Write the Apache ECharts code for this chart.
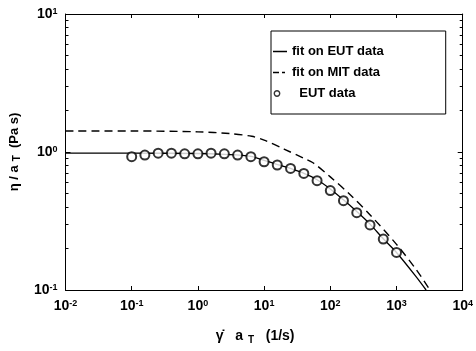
<!DOCTYPE html>
<html><head><meta charset="utf-8">
<script src="https://cdn.jsdelivr.net/npm/echarts@6/dist/echarts.min.js"></script>
<style>html,body{margin:0;padding:0;background:#fff}#c{width:476px;height:351px}</style>
</head><body><div id="c"></div>
<script>
// EUT measured data (shear rate, eta/aT)
const eutX = [0.1, 0.158, 0.251, 0.398, 0.631, 1, 1.58, 2.51, 3.98, 6.31, 10, 15.8, 25.1, 39.8, 63.1, 100, 158, 251, 398, 631, 1000];
const eutY = [0.925, 0.95, 0.98, 0.98, 0.97, 0.97, 0.98, 0.97, 0.95, 0.925, 0.85, 0.805, 0.76, 0.70, 0.62, 0.525, 0.444, 0.363, 0.296, 0.234, 0.187];
// fit on EUT data (solid)
const fitEutX = [0.01, 0.1, 1, 2.5, 6.3, 10, 16, 25, 40, 63, 100, 158, 251, 398, 631, 1000, 2000, 2800];
const fitEutY = [0.98, 0.98, 0.975, 0.96, 0.93, 0.87, 0.81, 0.76, 0.70, 0.63, 0.54, 0.45, 0.37, 0.30, 0.235, 0.187, 0.124, 0.1];
// fit on MIT data (dashed)
const fitMitX = [0.01, 0.1, 1, 3, 6.5, 10, 20, 40, 54, 100, 200, 400, 1000, 2000, 3200];
const fitMitY = [1.42, 1.42, 1.40, 1.36, 1.30, 1.22, 1.05, 0.90, 0.84, 0.66, 0.49, 0.35, 0.214, 0.14, 0.1];
// axes
const xMin = 0.01, xMax = 10000, yMin = 0.1, yMax = 10;
const seriesNames = ['fit on EUT data', 'fit on MIT data', 'EUT data'];

const pair = (xs, ys) => xs.map((x, i) => [x, ys[i]]);
const FONT = "'Liberation Sans', Arial, Helvetica, sans-serif";
const powRich = {
  b: {fontSize: 14, fontWeight: 'bold', fontFamily: FONT, color: '#000', padding: [4, 0, 0, 0], verticalAlign: 'bottom', lineHeight: 14},
  s: {fontSize: 9, fontWeight: 'bold', fontFamily: FONT, color: '#000', verticalAlign: 'top', lineHeight: 9}
};
const powFmt = v => '{b|10}{s|' + Math.round(Math.log10(v)) + '}';
// legend icons (bounding box kept 14x10 by tiny corner dots)
const iconSolid = 'path://M0,0L0.01,0L0.01,0.01ZM0,4.3L14,4.3L14,5.7L0,5.7ZM13.99,9.99L14,9.99L14,10Z';
const iconDash = 'path://M0,0L0.01,0L0.01,0.01ZM0,4.3L6,4.3L6,5.7L0,5.7ZM9,4.3L12,4.3L12,5.7L9,5.7ZM13.99,9.99L14,9.99L14,10Z';
const iconRing = 'path://M0,0L0.01,0L0.01,0.01Z' +
  'M0.6,5C0.6,3.122 2.122,1.6 4,1.6C5.878,1.6 7.4,3.122 7.4,5C7.4,6.878 5.878,8.4 4,8.4C2.122,8.4 0.6,6.878 0.6,5Z' +
  'M2,5C2,6.105 2.895,7 4,7C5.105,7 6,6.105 6,5C6,3.895 5.105,3 4,3C2.895,3 2,3.895 2,5Z' +
  'M13.99,9.99L14,9.99L14,10Z';
const iconStyle = {color: '#000', borderWidth: 0, borderColor: 'transparent'};

const chart = echarts.init(document.getElementById('c'));
chart.setOption({
  animation: false,
  backgroundColor: '#fff',
  grid: {left: 63, right: 9, top: 14, bottom: 61},
  legend: {
    orient: 'vertical', left: 271, top: 31,
    borderColor: '#000', borderWidth: 1,
    padding: [14, 62, 14, 2],
    itemGap: 8, itemWidth: 14, itemHeight: 10,
    textStyle: {fontFamily: FONT, fontSize: 13, fontWeight: 'bold', color: '#000'},
    formatter: name => name === seriesNames[2] ? '  ' + name : name,
    data: [
      {name: seriesNames[0], icon: iconSolid, itemStyle: iconStyle},
      {name: seriesNames[1], icon: iconDash, itemStyle: iconStyle},
      {name: seriesNames[2], icon: iconRing, itemStyle: iconStyle}
    ]
  },
  xAxis: [{
    type: 'log', logBase: 10, min: xMin, max: xMax,
    name: '{g|γ̇}{n|   a}{sub|T}{n|   (1/s)}', nameLocation: 'middle', nameGap: 38,
    nameTextStyle: {padding: [0, 0, 0, -18], rich: {
      g: {fontSize: 14, fontWeight: 'bold', fontFamily: FONT, color: '#000'},
      n: {fontSize: 14, fontWeight: 'bold', fontFamily: FONT, color: '#000'},
      sub: {fontSize: 10, fontWeight: 'bold', fontFamily: FONT, color: '#000', verticalAlign: 'bottom', padding: [7, 0, 0, 5]}
    }},
    axisLine: {show: true, lineStyle: {color: '#000', width: 1}},
    axisTick: {show: true, inside: true, length: 4, lineStyle: {color: '#000'}},
    minorTick: {show: false},
    splitLine: {show: false},
    axisLabel: {interval: 1, margin: 9, formatter: powFmt, rich: powRich}
  }, {
    type: 'log', logBase: 10, min: xMin, max: xMax, position: 'top',
    axisLine: {show: true, onZero: false, lineStyle: {color: '#000', width: 1}},
    axisTick: {show: true, inside: true, length: 4, lineStyle: {color: '#000'}},
    splitLine: {show: false}, axisLabel: {show: false}
  }],
  yAxis: [{
    type: 'log', logBase: 10, min: yMin, max: yMax,
    name: '{n|η / a}{sub|T}{n|  (Pa s)}', nameLocation: 'middle', nameGap: 43, nameRotate: 90,
    nameTextStyle: {rich: {
      n: {fontSize: 13, fontWeight: 'bold', fontFamily: FONT, color: '#000'},
      sub: {fontSize: 10, fontWeight: 'bold', fontFamily: FONT, color: '#000', verticalAlign: 'bottom', padding: [6, 0, 0, 4]}
    }},
    axisLine: {show: true, lineStyle: {color: '#000', width: 1}},
    axisTick: {show: true, inside: true, length: 5, lineStyle: {color: '#000'}},
    minorTick: {show: true, splitNumber: 9, length: 3, lineStyle: {color: '#000'}},
    splitLine: {show: false},
    axisLabel: {margin: 8, formatter: powFmt, rich: powRich}
  }, {
    type: 'log', logBase: 10, min: yMin, max: yMax, position: 'right',
    axisLine: {show: true, onZero: false, lineStyle: {color: '#000', width: 1}},
    axisTick: {show: true, inside: true, length: 5, lineStyle: {color: '#000'}},
    minorTick: {show: true, splitNumber: 9, length: 3, lineStyle: {color: '#000'}},
    splitLine: {show: false}, axisLabel: {show: false}
  }],
  series: [{
    name: seriesNames[0], type: 'line', data: pair(fitEutX, fitEutY),
    smooth: 0.3, symbol: 'none', lineStyle: {color: '#000', width: 1.3}, itemStyle: {color: '#000'}, z: 3
  }, {
    name: seriesNames[1], type: 'line', data: pair(fitMitX, fitMitY),
    smooth: 0.3, symbol: 'none', lineStyle: {color: '#000', width: 1.4, type: [8, 5]}, itemStyle: {color: '#000'}, z: 3
  }, {
    name: seriesNames[2], type: 'scatter', data: pair(eutX, eutY),
    symbol: 'emptyCircle', symbolSize: 9,
    itemStyle: {color: '#000', borderColor: '#000', borderWidth: 1.6}, z: 4
  }]
});
</script></body></html>
